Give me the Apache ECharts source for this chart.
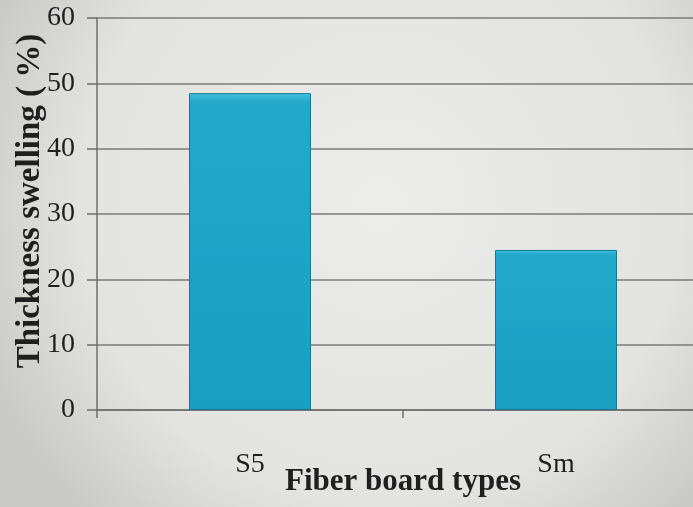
<!DOCTYPE html>
<html>
<head>
<meta charset="utf-8">
<script src="https://cdn.jsdelivr.net/npm/echarts@6/dist/echarts.min.js"></script>
<style>
  html, body { margin: 0; padding: 0; }
  #chart { width: 693px; height: 507px; }
</style>
</head>
<body>
<div id="chart"></div>
<script>
// Thickness swelling of two fiber board types
const boardTypes = ['S5', 'Sm'];
const swelling = [48.5, 24.5];
const yTicks = [0, 10, 20, 30, 40, 50, 60];

const serif = '"Liberation Serif", "DejaVu Serif", serif';
const ink = '#1f1f1f';
const axisGrey = '#6e6e6e';

const chart = echarts.init(document.getElementById('chart'));
chart.setOption({
  backgroundColor: {
    type: 'radial', x: 0.55, y: 0.4, r: 0.85,
    colorStops: [
      { offset: 0, color: '#ececea' },
      { offset: 0.7, color: '#e3e4e0' },
      { offset: 1, color: '#c9cac6' }
    ]
  },
  animation: false,
  grid: { left: 97, top: 18, bottom: 97, width: 612, outerBoundsMode: 'none', containLabel: false },
  xAxis: {
    type: 'category',
    data: boardTypes,
    name: 'Fiber board types',
    nameLocation: 'middle',
    nameGap: 56,
    nameMoveOverlap: false,
    nameTextStyle: { fontFamily: serif, fontWeight: 'bold', fontSize: 31, color: ink },
    axisLine: { lineStyle: { color: axisGrey, width: 1.5 } },
    axisTick: { show: true, length: 8, lineStyle: { color: axisGrey, width: 1.5 } },
    axisLabel: { fontFamily: serif, fontSize: 28, color: ink, margin: 41 }
  },
  yAxis: {
    type: 'value',
    min: yTicks[0],
    max: yTicks[yTicks.length - 1],
    interval: 10,
    name: 'Thickness swelling ( %)',
    nameLocation: 'middle',
    nameGap: 50,
    nameMoveOverlap: false,
    nameTextStyle: {
      fontFamily: serif, fontWeight: 'bold', fontSize: 33, color: ink,
      padding: [0, 0, 0, 26]
    },
    axisLine: { show: true, lineStyle: { color: axisGrey, width: 1.5 } },
    axisTick: { show: true, length: 10, lineStyle: { color: axisGrey, width: 1.5 } },
    axisLabel: { fontFamily: serif, fontSize: 28, color: ink, margin: 22, padding: [5, 0, 0, 0] },
    splitLine: { lineStyle: { color: '#7a7a7a', width: 1.5 } }
  },
  series: [{
    type: 'bar',
    data: swelling,
    barWidth: 122,
    itemStyle: {
      color: {
        type: 'linear', x: 0, y: 0, x2: 0, y2: 1,
        colorStops: [
          { offset: 0, color: '#45c0dc' },
          { offset: 0.03, color: '#21a8cb' },
          { offset: 1, color: '#1a9fc3' }
        ]
      },
      borderColor: '#137a94',
      borderWidth: 1
    }
  }]
});
</script>
</body>
</html>
